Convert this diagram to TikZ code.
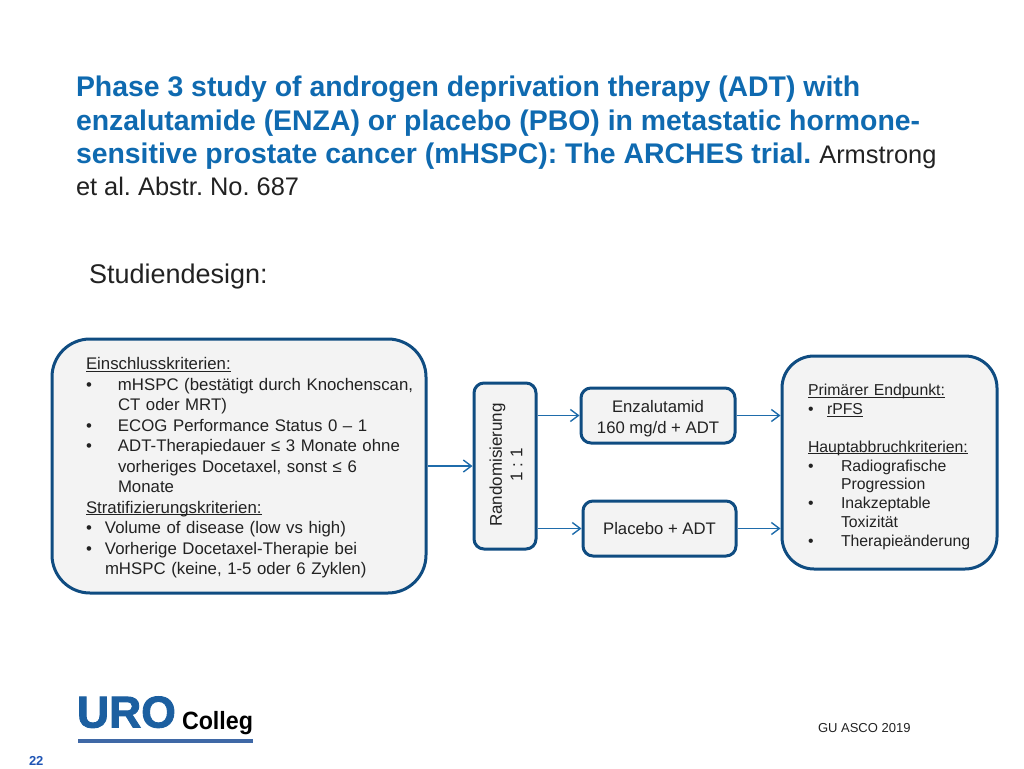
\documentclass[tikz,border=0pt]{standalone}
\usepackage{fontspec}
\setmainfont{Liberation Sans}
\usetikzlibrary{arrows.meta}
\definecolor{boxedge}{HTML}{0F4C81}
\definecolor{boxfill}{HTML}{F3F3F3}
\definecolor{arrowblue}{HTML}{1F6CAB}
\definecolor{titleblue}{HTML}{0F6AB0}
\definecolor{logoblue}{HTML}{1C5FA0}
\definecolor{barblue}{HTML}{3F68A6}
\definecolor{pageblue}{HTML}{1F55B5}
\definecolor{ink}{HTML}{222222}
\newcommand{\ulx}[1]{\underline{\smash{#1}}}
\frenchspacing
\tikzset{
  x=1pt,y=-1pt,
  bigbox/.style={draw=boxedge,fill=boxfill,line width=3pt,rounded corners=38pt,inner sep=0pt,text=ink},
  smallbox/.style={draw=boxedge,fill=boxfill,line width=3pt,rounded corners=10pt,inner sep=0pt,text=ink,align=center},
  flow/.style={draw=arrowblue,line width=1.5pt,-{Straight Barb[length=8pt,width=12pt,line width=1.4pt]}},
  plain/.style={inner sep=0pt,outer sep=0pt}
}
\begin{document}
\begin{tikzpicture}
\useasboundingbox (0,0) rectangle (1024,768);
\node[plain,anchor=north west,align=left,text=titleblue,font={\fontsize{28.4}{33.7}\selectfont}] (title) at (76,76)
{\textbf{Phase 3 study of androgen deprivation therapy (ADT) with}\\
\textbf{enzalutamide (ENZA) or placebo (PBO) in metastatic hormone-}\\
\textbf{sensitive prostate cancer (mHSPC): The ARCHES trial.} {\color{ink}\fontsize{25.4}{33.7}\selectfont Armstrong}\\[-1.8pt]
{\color{ink}\fontsize{25.4}{33.7}\selectfont et al. Abstr. No. 687}};
\node[plain,anchor=west,text=ink,font={\fontsize{27}{30}\selectfont}] (studien) at (89,277) {Studiendesign:};

\node[bigbox,minimum width=374pt,minimum height=254pt,text width=306pt,align=left,font={\fontsize{16.8}{20.5}\selectfont}] (lbox) at (239,466)
{\rule{0pt}{16pt}\ulx{Einschlusskriterien:}\\
\makebox[32pt][l]{•}\mbox{mHSPC (bestätigt durch Knochenscan,}\\
\hspace*{32pt}CT oder MRT)\\
\makebox[32pt][l]{•}ECOG Performance Status 0 – 1\\
\makebox[32pt][l]{•}\mbox{ADT-Therapiedauer ≤ 3 Monate ohne}\\
\hspace*{32pt}vorheriges Docetaxel, sonst ≤ 6\\
\hspace*{32pt}Monate\\
\ulx{Stratifizierungskriterien:}\\
\makebox[19pt][l]{•}Volume of disease (low vs high)\\
\makebox[19pt][l]{•}Vorherige Docetaxel-Therapie bei\\
\hspace*{19pt}\mbox{mHSPC (keine, 1-5 oder 6 Zyklen)}};

\node[smallbox,minimum width=62pt,minimum height=166pt] (rand) at (505,466) {};
\node[plain,rotate=90,align=center,text=ink,font={\fontsize{17}{20.5}\selectfont}] (randtext) at (506,465) {Randomisierung\\1 : 1};

\node[smallbox,minimum width=154pt,minimum height=55pt,font={\fontsize{16.7}{20.5}\selectfont}] (enz) at (658,415.5) {\rule{0pt}{18pt}Enzalutamid\\160 mg/d + ADT};
\node[smallbox,minimum width=153pt,minimum height=55pt,font={\fontsize{16.7}{20.5}\selectfont}] (pla) at (659.5,528.5) {Placebo + ADT};

\node[bigbox,rounded corners=32pt,minimum width=215pt,minimum height=213pt,text width=163pt,align=left,font={\fontsize{15.8}{18.9}\selectfont}] (rbox) at (889.5,462.5)
{\mbox{}\\[1.5pt]
\ulx{Primärer Endpunkt:}\\
\makebox[19pt][l]{•}\ulx{rPFS}\\[18.9pt]
\ulx{Hauptabbruchkriterien:}\\
\makebox[33pt][l]{•}Radiografische\\
\hspace*{33pt}Progression\\
\makebox[33pt][l]{•}Inakzeptable\\
\hspace*{33pt}Toxizität\\
\makebox[33pt][l]{•}\mbox{Therapieänderung}};

\draw[flow] (lbox.east) -- (rand.west);
\draw[flow] (rand.east |- enz.west) -- (enz.west);
\draw[flow] (rand.east |- pla.west) -- (pla.west);
\draw[flow] (enz.east) -- (rbox.west |- enz.east);
\draw[flow] (pla.east) -- (rbox.west |- pla.east);

\node[plain,anchor=base west,text=logoblue,font={\fontsize{44.5}{45}\selectfont\bfseries\addfontfeatures{FakeBold=2}}] (uro) at (77,727.5) {URO};
\node[plain,anchor=base west,text=black,font={\fontsize{25}{26}\selectfont\bfseries\addfontfeatures{FakeStretch=0.93}}] (colleg) at (182,729) {Colleg};
\node[plain,fill=barblue,minimum width=175pt,minimum height=4pt,anchor=north west] (bar) at (78,739) {};
\node[plain,anchor=base west,text=ink,font={\fontsize{13}{15}\selectfont}] (asco) at (818,732) {GU ASCO 2019};
\node[plain,anchor=base west,text=pageblue,font={\fontsize{13}{15}\selectfont\bfseries}] (page) at (29,765) {22};
\end{tikzpicture}
\end{document}
